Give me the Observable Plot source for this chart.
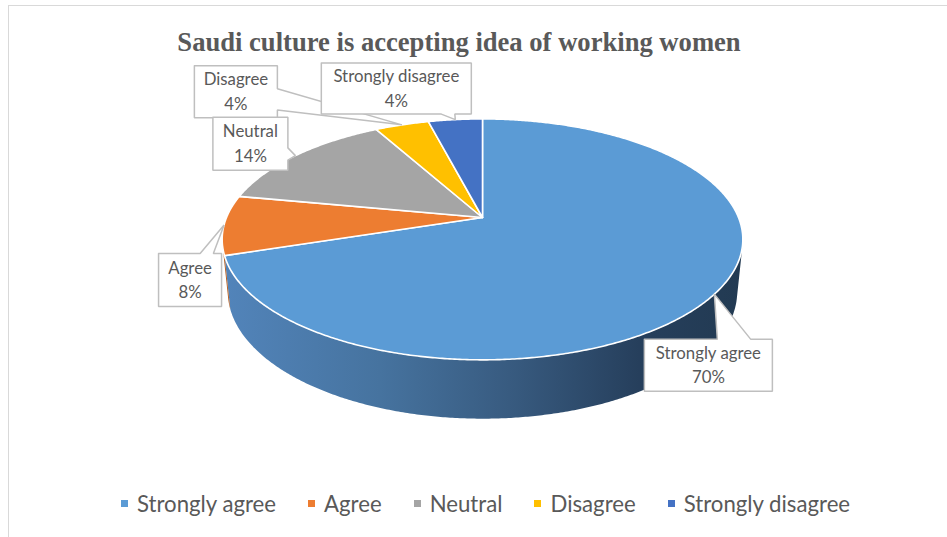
<!DOCTYPE html>
<html><head><meta charset="utf-8">
<script src="https://cdn.jsdelivr.net/npm/d3@7"></script>
<script src="https://cdn.jsdelivr.net/npm/@observablehq/plot@0.6"></script>
<style>
html,body{margin:0;padding:0;background:#fff;}
#wrap{position:relative;width:947px;height:537px;overflow:hidden;font-family:Lato,"Open Sans",sans-serif;}
#frame{position:absolute;left:8px;top:5px;width:945px;height:540px;border:1px solid #d9d9d9;box-sizing:border-box;}
#chart{position:absolute;left:0;top:0;}
#title{position:absolute;left:159px;width:600px;top:28px;text-align:center;font:bold 28px/1 "Liberation Serif","Times New Roman",serif;color:#595959;white-space:nowrap;transform:scaleX(0.95);}
#legend{position:absolute;top:490px;left:121px;display:flex;align-items:center;font-size:22.2px;color:#595959;white-space:nowrap;}
#legend .it{display:flex;align-items:center;margin-right:32px;}
#legend .sw{width:7px;height:7px;margin-right:9px;}
</style></head><body>
<div id="wrap"><div id="frame"></div><div id="chart"></div>
<div id="title">Saudi culture is accepting idea of working women</div>
<div id="legend"></div></div>
<script>
// ---- data ----
const categories = ["Strongly agree", "Agree", "Neutral", "Disagree", "Strongly disagree"];
const percents = [70, 8, 14, 4, 4];
const percentLabels = ["70%", "8%", "14%", "4%", "4%"];
const colors = ["#5B9BD5", "#ED7D31", "#A5A5A5", "#FFC000", "#4472C4"];
const sideColors = ["url(#saSide)", "#b55f22", "#7d7d7d", "#c09100", "#33568f"];

// ---- layout ----
const W = 947, H = 537;
const CX = 482, CY = 217, R = 256;
const SIN = 0.455, COS = Math.sqrt(1 - SIN * SIN), DIST = 4.9, THICK = 0.23;
function proj(X, Y, Z) {
  const yc = Y * COS - Z * SIN, zc = Y * SIN + Z * COS, k = DIST / (DIST - zc);
  return [CX + R * X * k, CY - R * yc * k];
}
const rim = (t, Y) => proj(Math.sin(t), Y, -Math.cos(t));
const thR = Math.acos(-1 / (DIST * COS)), thL = 2 * Math.PI - thR;

const arcs = d3.pie().sort(null).value(d => d)(percents);

function arcPts(a0, a1, Y) {
  const n = Math.max(3, Math.ceil(Math.abs(a1 - a0) / 0.008));
  return d3.range(n + 1).map(j => rim(a0 + (a1 - a0) * j / n, Y));
}

const marks = [];
// side walls
arcs.forEach((a, i) => {
  const t0 = Math.max(a.startAngle, thR), t1 = Math.min(a.endAngle, thL);
  if (t1 <= t0) return;
  const pts = [...arcPts(t0, t1, 0), ...arcPts(t1, t0, -THICK)];
  pts.push(pts[0]);
  marks.push(Plot.line(pts.map(([x, y]) => ({x, y})), {x: "x", y: "y", fill: sideColors[i], stroke: "none", curve: "linear"}));
});
// top faces
arcs.forEach((a, i) => {
  const c = proj(0, 0, 0);
  const pts = [c, ...arcPts(a.startAngle, a.endAngle, 0), c];
  marks.push(Plot.line(pts.map(([x, y]) => ({x, y})), {x: "x", y: "y", fill: colors[i], stroke: "white", strokeWidth: 1.6, strokeLinejoin: "round", curve: "linear"}));
});

// callouts (box offset from anchor, size, wedge side and base fractions)
const callouts = [
  {i: 3, dx: -166, dy: -33, w: 83, h: 52, side: "right", f0: 0.44, f1: 0.85},
  {i: 4, dx: -59, dy: -31, w: 150, h: 51, side: "bottom", f0: 0.80, f1: 0.89},
  {i: 2, dx: -45, dy: -12, w: 75, h: 53, side: "right", f0: 0.58, f1: 0.81},
  {i: 1, dx: -34, dy: 55, w: 63, h: 53, side: "top", f0: 0.66, f1: 0.87},
  {i: 0, dx: -6, dy: 71, w: 128, h: 52, side: "top", f0: 0.57, f1: 0.83}
];
callouts.forEach(cb => {
  const a = arcs[cb.i];
  const tip = rim((a.startAngle + a.endAngle) / 2, 0);
  const cx0 = tip[0] + cb.dx, cy0 = tip[1] + cb.dy, w = cb.w, h = cb.h;
  const x0 = cx0 - w / 2, x1 = cx0 + w / 2, y0 = cy0 - h / 2, y1 = cy0 + h / 2;
  const pts = [[x0, y0]];
  if (cb.side === "top") pts.push([x0 + w * cb.f0, y0], tip, [x0 + w * cb.f1, y0]);
  pts.push([x1, y0]);
  if (cb.side === "right") pts.push([x1, y0 + h * cb.f0], tip, [x1, y0 + h * cb.f1]);
  pts.push([x1, y1]);
  if (cb.side === "bottom") pts.push([x0 + w * cb.f1, y1], tip, [x0 + w * cb.f0, y1]);
  pts.push([x0, y1], [x0, y0]);
  marks.push(Plot.line(pts.map(([x, y]) => ({x, y})), {x: "x", y: "y", fill: "white", stroke: "#bfbfbf", strokeWidth: 1.5, strokeLinejoin: "miter", curve: "linear"}));
  marks.push(Plot.text([{x: cx0, y: cy0, t: categories[cb.i] + "\n" + percentLabels[cb.i]}], {x: "x", y: "y", dy: -2, text: "t", fill: "#595959", fontSize: 16.8, lineHeight: 1.45, fontFamily: "Lato, 'Open Sans', sans-serif"}));
});

const svg = Plot.plot({
  width: W, height: H,
  marginTop: 0, marginRight: 0, marginBottom: 0, marginLeft: 0,
  x: {domain: [0, W], range: [0, W], axis: null},
  y: {domain: [0, H], range: [0, H], axis: null},
  style: {background: "transparent", overflow: "visible"},
  marks
});
const defs = d3.select(svg).insert("defs", ":first-child");
const g = defs.append("linearGradient").attr("id", "saSide").attr("x1", 0).attr("x2", 1).attr("y1", 0).attr("y2", 0);
[[0, "#5284ba"], [0.3, "#46739f"], [0.55, "#385b80"], [0.8, "#263f5c"], [1, "#223a52"]].forEach(([o, c]) =>
  g.append("stop").attr("offset", o).attr("stop-color", c));
document.getElementById("chart").appendChild(svg);

// legend
const lg = d3.select("#legend");
categories.forEach((c, i) => {
  const it = lg.append("div").attr("class", "it");
  it.append("div").attr("class", "sw").style("background", colors[i]);
  it.append("span").text(c);
});
</script>
</body></html>
